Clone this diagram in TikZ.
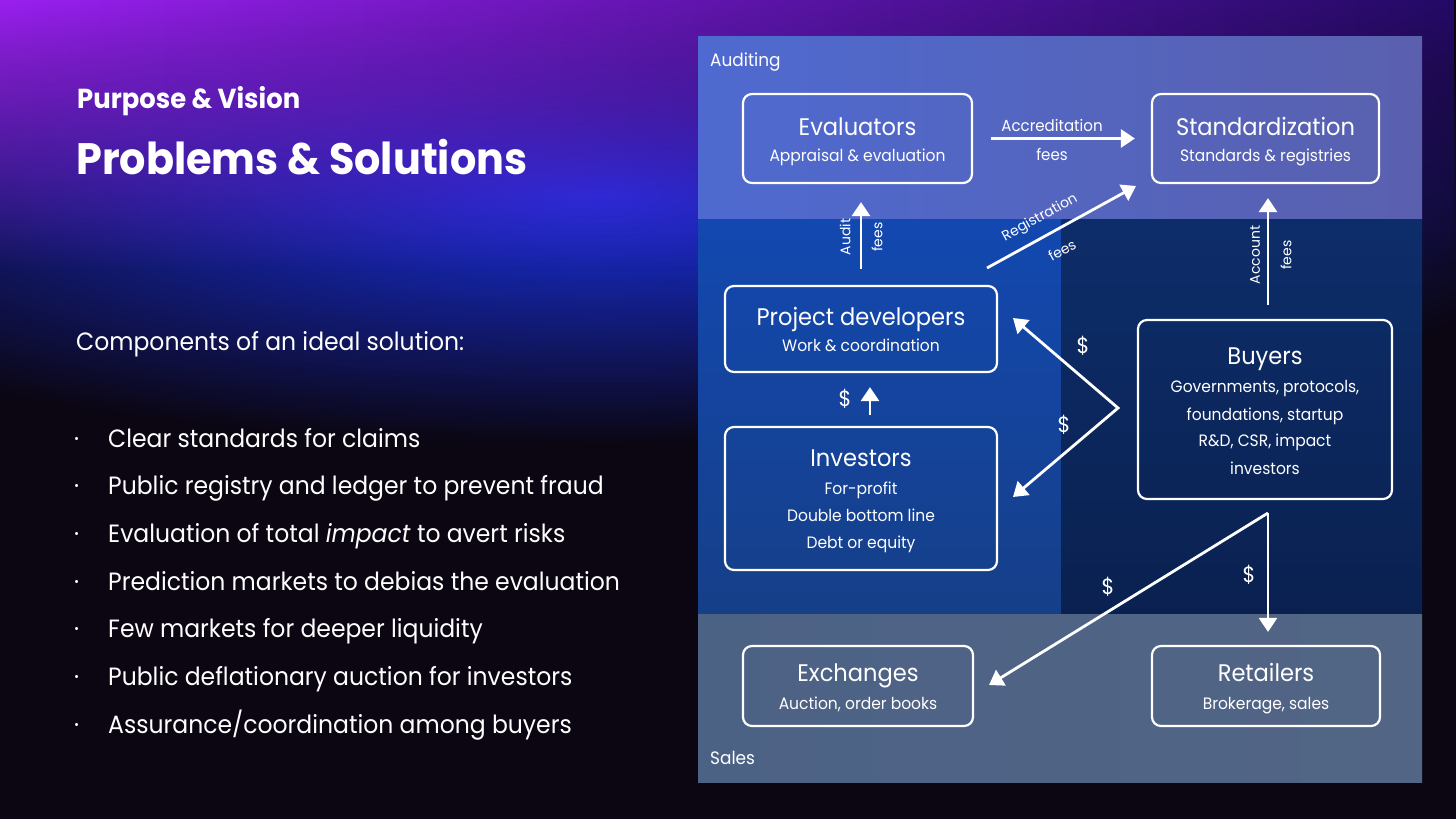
\documentclass[tikz,border=0pt]{standalone}
\usepackage{fontspec}
\setmainfont{Poppins}[FakeStretch=0.94]
\newfontfamily\widefont{Poppins}
\usetikzlibrary{arrows.meta,fadings,calc}
\definecolor{bgdark}{HTML}{0B0612}
\definecolor{cpurple}{HTML}{9A20F0}
\definecolor{cblue}{HTML}{3020D8}
\definecolor{cdeep}{HTML}{240A66}
\definecolor{cglow}{HTML}{1830E0}
\definecolor{topL}{HTML}{4E6AD0}
\definecolor{topR}{HTML}{5A60AE}
\definecolor{midLt}{HTML}{1248B0}
\definecolor{midLb}{HTML}{163F88}
\definecolor{midRt}{HTML}{0D2D6A}
\definecolor{midRb}{HTML}{0A2150}
\definecolor{botL}{HTML}{4C6285}
\definecolor{botR}{HTML}{526585}
\tikzfading[name=fadedown, top color=transparent!0, bottom color=transparent!100]
\tikzset{
  box/.style={draw=white, line width=2.2pt, rounded corners=9pt, rectangle, inner sep=0pt},
  ttl/.style={text=white, inner sep=0pt, anchor=base, font=\fontsize{24}{28}\selectfont},
  sub/.style={text=white, inner sep=0pt, anchor=base, font=\fontsize{16.5}{20}\selectfont},
  lbl/.style={text=white, inner sep=0pt, font=\widefont\fontsize{14}{16}\selectfont},
  hlbl/.style={text=white, inner sep=0pt, anchor=base, font=\fontsize{16}{18}\selectfont},
  dollar/.style={text=white, inner sep=0pt, font=\fontsize{22}{24}\selectfont},
  arr/.style={draw=white, line width=2.8pt, -{Triangle[length=14pt,width=18pt]}},
  arrtwo/.style={draw=white, line width=2.8pt, {Triangle[length=14pt,width=18pt]}-{Triangle[length=14pt,width=18pt]}},
  bodytext/.style={text=white, inner sep=0pt, anchor=base west, font=\fontsize{25}{30}\selectfont},
}
\begin{document}
\begin{tikzpicture}[x=1pt,y=-1pt]
\useasboundingbox (0,0) rectangle (1456,819);
% background
\fill[bgdark] (0,0) rectangle (1456,819);
\shade[inner color=cglow, outer color=bgdark] (600,195) ellipse [x radius=1000, y radius=250];
\shade[left color=cpurple, middle color=cblue, right color=cdeep, path fading=fadedown] (0,0) rectangle (1456,270);
% panel
\shade[left color=topL, right color=topR] (698,36) rectangle (1422,219);
\shade[top color=midLt, bottom color=midLb] (698,219) rectangle (1061,614);
\shade[top color=midRt, bottom color=midRb] (1061,219) rectangle (1422,614);
\shade[left color=botL, right color=botR] (698,614) rectangle (1422,782);
\node[text=white, inner sep=0pt, anchor=base west, font=\fontsize{18}{20}\selectfont] (audT) at (710,66.7) {Auditing};
\node[text=white, inner sep=0pt, anchor=base west, font=\fontsize{18}{20}\selectfont] (salT) at (710,764) {Sales};
% left text
\node[text=white, inner sep=0pt, anchor=base west, font=\bfseries\fontsize{27.5}{30}\selectfont] (pv) at (77,108.3) {Purpose \& Vision};
\node[text=white, inner sep=0pt, anchor=base west, font=\bfseries\fontsize{44}{50}\selectfont] (ps) at (76,174) {Problems \& Solutions};
\node[bodytext] (comp) at (76,350.7) {Components of an ideal solution:};
\foreach \yy/\tx [count=\i] in {447/{Clear standards for claims},
  494.7/{Public registry and ledger to prevent fraud},
  542.4/{Evaluation of total \textit{impact} to avert risks},
  590/{Prediction markets to debias the evaluation},
  637.7/{Few markets for deeper liquidity},
  685.4/{Public deflationary auction for investors},
  733/{Assurance/coordination among buyers}}{
  \node[bodytext] (bul\i) at (74,\yy) {·};
  \node[bodytext] (item\i) at (108,\yy) {\tx};
}
% boxes
\node[box, minimum width=229pt, minimum height=89pt] (eval) at (857.5,138.5) {};
\node[box, minimum width=227pt, minimum height=89pt] (std) at (1265.5,138.5) {};
\node[box, minimum width=272pt, minimum height=86pt] (proj) at (861,329) {};
\node[box, minimum width=272pt, minimum height=143pt] (inv) at (861,498.5) {};
\node[box, minimum width=254pt, minimum height=179pt] (buy) at (1265,409.5) {};
\node[box, minimum width=230pt, minimum height=80pt] (exch) at (858,686) {};
\node[box, minimum width=228pt, minimum height=80pt] (ret) at (1266,686) {};
% box texts
\node[ttl] (evalT) at (857.5,135) {Evaluators};
\node[sub] (evalS) at (857.5,161.7) {Appraisal \& evaluation};
\node[ttl] (stdT) at (1265.5,135) {Standardization};
\node[sub] (stdS) at (1265.5,161.7) {Standards \& registries};
\node[ttl] (projT) at (861,325) {Project developers};
\node[sub] (projS) at (861,351.7) {Work \& coordination};
\node[ttl] (invT) at (861,466.7) {Investors};
\node[sub] (invS1) at (861,494.3) {For-profit};
\node[sub] (invS2) at (861,521.7) {Double bottom line};
\node[sub] (invS3) at (861,548.3) {Debt or equity};
\node[ttl] (buyT) at (1265,364.3) {Buyers};
\node[sub] (buyS1) at (1265,392.7) {Governments, protocols,};
\node[sub] (buyS2) at (1265,420) {foundations, startup};
\node[sub] (buyS3) at (1265,446.7) {R\&D, CSR, impact};
\node[sub] (buyS4) at (1265,474) {investors};
\node[ttl] (exchT) at (858,681.7) {Exchanges};
\node[sub] (exchS) at (858,709.3) {Auction, order books};
\node[ttl] (retT) at (1266,681.7) {Retailers};
\node[sub] (retS) at (1266,709.3) {Brokerage, sales};
% connectors
\draw[arr, shorten <=18pt, shorten >=16pt] (eval.east) -- (std.west);
\node[hlbl] (accA) at (1052,131) {Accreditation};
\node[hlbl] (accB) at (1052,160) {fees};
\draw[arr, shorten <=16pt, shorten >=18pt] (proj.north) -- (proj.north |- eval.south);
\node[lbl, rotate=90] (audA) at (845,237) {Audit};
\node[lbl, rotate=90] (audB) at (877,237) {fees};
\coordinate (regS) at (987,268);
\coordinate (regE) at (1136,186);
\draw[arr] (regS) -- (regE);
\node[lbl, rotate=29] (regA) at (1040,218) {Registration};
\node[lbl, rotate=29] (regB) at (1062,250) {fees};
\draw[arr, shorten <=14pt, shorten >=14pt] ([xshift=3pt]buy.north) -- ([xshift=3pt]buy.north |- std.south);
\node[lbl, rotate=90] (accnA) at (1255,255) {Account};
\node[lbl, rotate=90] (accnB) at (1286,255) {fees};
\draw[arr, shorten <=11pt, shorten >=14pt] ([xshift=9pt]inv.north) -- ([xshift=9pt]inv.north |- proj.south);
\node[dollar] (d1) at (845,399) {\$};
\coordinate (pTip) at (1013,318);
\coordinate (bv) at (1118,408);
\coordinate (iTip) at (1013,497);
\draw[arrtwo] (pTip) -- (bv) -- (iTip);
\node[dollar] (d2) at (1083,346) {\$};
\node[dollar] (d3) at (1064,425) {\$};
\coordinate (bs) at (1268,513);
\coordinate (exTip) at (989,685);
\draw[arr] (bs) -- (exTip);
\draw[arr, shorten >=13pt] (bs) -- (bs |- ret.north);
\node[dollar] (d4) at (1108,587) {\$};
\node[dollar] (d5) at (1249,575) {\$};
\end{tikzpicture}
\end{document}
